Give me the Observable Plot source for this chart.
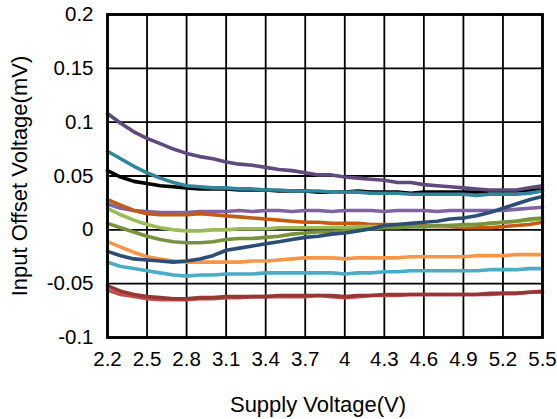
<!DOCTYPE html>
<html><head><meta charset="utf-8">
<script src="https://cdn.jsdelivr.net/npm/d3@7"></script>
<script src="https://cdn.jsdelivr.net/npm/@observablehq/plot@0.6"></script>
<style>body{margin:0;background:#fff}</style>
</head><body><div id="chart"></div>
<script>
const supply = [2.2,2.3,2.4,2.5,2.6,2.7,2.8,2.9,3.0,3.1,3.2,3.3,3.4,3.5,3.6,3.7,3.8,3.9,4.0,4.1,4.2,4.3,4.4,4.5,4.6,4.7,4.8,4.9,5.0,5.1,5.2,5.3,5.4,5.5];

const darkRed = [-0.052,-0.057,-0.060,-0.062,-0.063,-0.064,-0.064,-0.063,-0.063,-0.062,-0.062,-0.062,-0.062,-0.061,-0.061,-0.061,-0.061,-0.061,-0.062,-0.061,-0.061,-0.060,-0.060,-0.060,-0.060,-0.060,-0.060,-0.060,-0.060,-0.059,-0.059,-0.059,-0.058,-0.057];
const red = [-0.056,-0.060,-0.062,-0.064,-0.065,-0.065,-0.065,-0.064,-0.064,-0.063,-0.063,-0.062,-0.062,-0.062,-0.062,-0.062,-0.061,-0.062,-0.063,-0.062,-0.061,-0.061,-0.061,-0.060,-0.060,-0.060,-0.060,-0.060,-0.060,-0.060,-0.059,-0.059,-0.058,-0.058];
const cyan = [-0.030,-0.034,-0.036,-0.038,-0.040,-0.042,-0.043,-0.042,-0.042,-0.041,-0.041,-0.041,-0.040,-0.040,-0.040,-0.040,-0.040,-0.040,-0.041,-0.040,-0.040,-0.039,-0.039,-0.038,-0.038,-0.038,-0.038,-0.038,-0.038,-0.037,-0.037,-0.037,-0.036,-0.036];
const lightOrange = [-0.011,-0.016,-0.021,-0.025,-0.027,-0.029,-0.030,-0.030,-0.030,-0.030,-0.030,-0.029,-0.029,-0.028,-0.027,-0.026,-0.026,-0.026,-0.027,-0.026,-0.026,-0.026,-0.026,-0.025,-0.025,-0.025,-0.025,-0.025,-0.024,-0.024,-0.024,-0.023,-0.023,-0.023];
const navy = [-0.020,-0.024,-0.027,-0.028,-0.029,-0.030,-0.029,-0.027,-0.024,-0.019,-0.017,-0.015,-0.013,-0.011,-0.009,-0.007,-0.006,-0.004,-0.003,-0.001,0.001,0.004,0.005,0.006,0.007,0.008,0.010,0.011,0.013,0.016,0.020,0.024,0.028,0.031];
const olive = [0.006,0.002,-0.002,-0.006,-0.009,-0.011,-0.012,-0.012,-0.011,-0.009,-0.008,-0.008,-0.007,-0.006,-0.004,-0.003,-0.002,-0.002,-0.001,0.000,0.001,0.002,0.002,0.003,0.003,0.004,0.004,0.005,0.005,0.006,0.007,0.008,0.010,0.011];
const lightGreen = [0.020,0.014,0.009,0.005,0.002,0.000,-0.001,-0.001,0.000,0.000,0.001,0.001,0.001,0.002,0.002,0.002,0.002,0.002,0.002,0.003,0.003,0.003,0.003,0.003,0.003,0.003,0.004,0.004,0.005,0.006,0.007,0.008,0.009,0.010];
const rust = [0.028,0.023,0.018,0.015,0.014,0.014,0.014,0.015,0.014,0.013,0.012,0.011,0.010,0.009,0.008,0.007,0.007,0.006,0.006,0.006,0.005,0.005,0.005,0.004,0.004,0.003,0.003,0.002,0.002,0.002,0.003,0.004,0.005,0.007];
const lavender = [0.024,0.020,0.018,0.017,0.016,0.016,0.016,0.017,0.017,0.017,0.018,0.017,0.018,0.018,0.017,0.018,0.018,0.017,0.018,0.018,0.018,0.017,0.018,0.018,0.018,0.017,0.018,0.018,0.018,0.018,0.018,0.019,0.020,0.021];
const black = [0.055,0.049,0.045,0.043,0.041,0.040,0.039,0.038,0.038,0.038,0.037,0.037,0.037,0.036,0.036,0.036,0.035,0.035,0.035,0.036,0.035,0.035,0.035,0.034,0.035,0.035,0.035,0.035,0.035,0.036,0.036,0.036,0.037,0.037];
const teal = [0.073,0.066,0.059,0.053,0.048,0.044,0.041,0.040,0.039,0.039,0.038,0.038,0.037,0.037,0.036,0.036,0.036,0.035,0.035,0.035,0.034,0.034,0.034,0.033,0.033,0.033,0.033,0.033,0.032,0.033,0.033,0.033,0.034,0.036];
const plum = [0.108,0.099,0.091,0.085,0.080,0.075,0.071,0.068,0.066,0.063,0.061,0.060,0.058,0.056,0.055,0.053,0.051,0.051,0.049,0.048,0.047,0.046,0.044,0.044,0.042,0.041,0.040,0.039,0.038,0.037,0.037,0.037,0.039,0.041];

const seriesNames = ["red","darkRed","cyan","lightOrange","lavender","rust","lightGreen","olive","navy","black","teal","plum"];
const seriesValues = [red,darkRed,cyan,lightOrange,lavender,rust,lightGreen,olive,navy,black,teal,plum];
const seriesColors = ["#c0504d","#953735","#4bacc6","#f79646","#8064a2","#c55a11","#9bbb59","#77933c","#2c4d75","#000000","#31859c","#604a7b"];

const xTicks = [2.2,2.5,2.8,3.1,3.4,3.7,4,4.3,4.6,4.9,5.2,5.5];
const yTicks = [-0.1,-0.05,0,0.05,0.1,0.15,0.2];
const xTitle = "Supply Voltage(V)";
const yTitle = "Input Offset Voltage(mV)";

const table = seriesNames.flatMap((name, i) => seriesValues[i].map((v, j) => ({x: supply[j], y: v, s: name})));

const chart = Plot.plot({
  width: 557, height: 419,
  marginLeft: 107, marginRight: 15, marginTop: 14, marginBottom: 82,
  style: {fontFamily: "'Liberation Sans', Arial, sans-serif", fontSize: "20.5px", color: "#000", background: "#fff"},
  x: {domain: [2.2, 5.5], ticks: xTicks, tickFormat: d => String(d), tickSize: 0, tickPadding: 14,
      label: xTitle, labelArrow: "none", labelAnchor: "center", labelOffset: 74},
  y: {domain: [-0.1, 0.2], ticks: yTicks, tickFormat: d => String(d), tickSize: 0, tickPadding: 14,
      label: yTitle, labelArrow: "none", labelAnchor: "center", labelOffset: 96},
  color: {domain: seriesNames, range: seriesColors},
  marks: [
    Plot.gridX(xTicks, {stroke: "#000", strokeOpacity: 1, strokeWidth: 1.8}),
    Plot.gridY(yTicks, {stroke: "#000", strokeOpacity: 1, strokeWidth: 1.8}),
    Plot.line(table, {x: "x", y: "y", z: "s", stroke: "s", strokeWidth: 3.6, strokeLinejoin: "round"}),
    Plot.frame({stroke: "#000", strokeWidth: 2.8})
  ]
});
d3.select(chart).selectAll("text").each(function() {
  const t = this.textContent;
  if (t.includes("Voltage")) {
    const sel = d3.select(this).text(t.replace(/\s*[↑→←↓]\s*/g, "").trim()).style("font-size", "22px");
    if (t.includes("Supply")) sel.attr("dx", -7);
  }
});
document.getElementById("chart").appendChild(chart);
</script>
</body></html>
